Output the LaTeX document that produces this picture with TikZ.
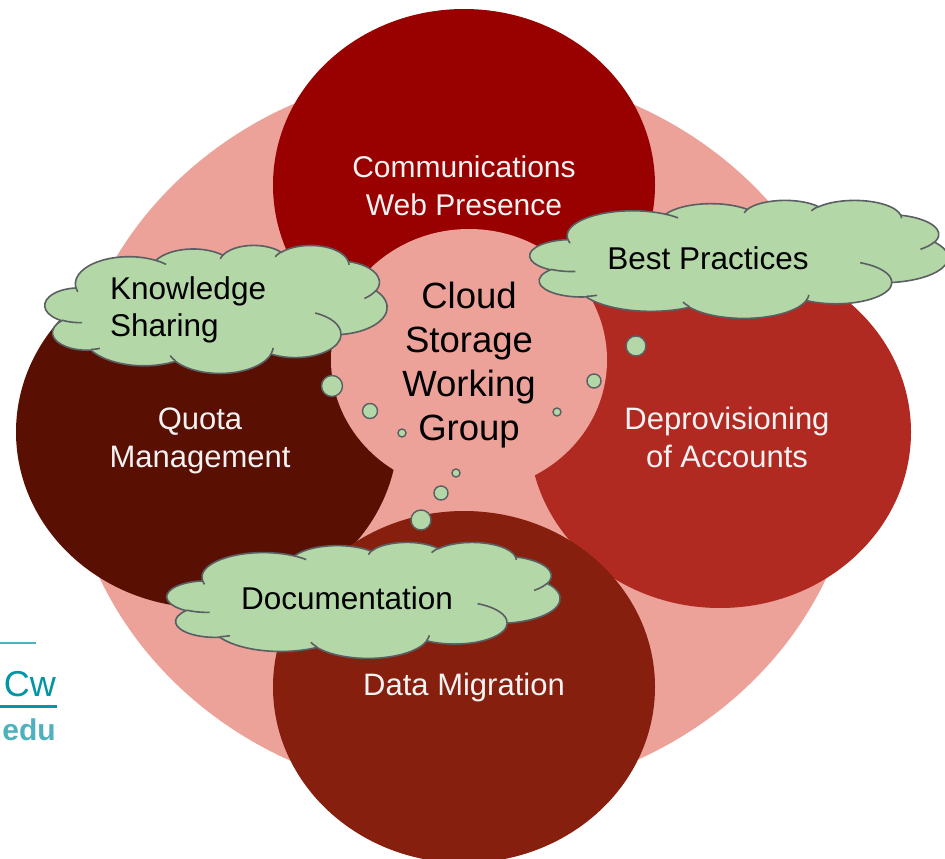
\documentclass[tikz,border=0pt]{standalone}
\usepackage{fontspec}
\setmainfont{Liberation Sans}
\usetikzlibrary{shapes.geometric}

\definecolor{basepink}{RGB}{236,161,153}
\definecolor{webred}{RGB}{153,0,0}
\definecolor{quotabrown}{RGB}{89,16,3}
\definecolor{deprovred}{RGB}{176,42,33}
\definecolor{migrred}{RGB}{134,31,14}
\definecolor{puffgreen}{RGB}{180,215,168}
\definecolor{puffrim}{RGB}{90,95,98}
\definecolor{petaltext}{RGB}{242,242,242}
\definecolor{linkteal}{RGB}{0,150,166}
\definecolor{mailteal}{RGB}{80,177,190}

\tikzset{
  % one bump of the cloud outline: x radius, y radius, start angle, sweep
  % (angles are screen angles, turned into ellipse parameters here)
  carc/.style n args={4}{insert path={
    arc[x radius=#1, y radius=#2,
        start angle={atan2(#1*sin(#3),#2*cos(#3))},
        end angle={atan2(#1*sin(#3+#4),#2*cos(#3+#4))
          -360*round((atan2(#1*sin(#3+#4),#2*cos(#3+#4))
          -atan2(#1*sin(#3),#2*cos(#3))-(#4))/360)}]}},
  % thought cloud, width and height, placed by its top left corner
  pics/thought/.style n args={2}{code={
    \begin{scope}[xscale=#1/432, yscale=#2/432]
      \draw[puff] (39,143.7)
        [carc={67.53}{91.90}{-190.4875}{123.7805}]
        [carc={53.33}{72.67}{-144.1024}{89.9452}]
        [carc={43.65}{59.45}{-145.8079}{99.7230}]
        [carc={48.57}{65.95}{-130.9861}{117.2417}]
        [carc={53.33}{72.73}{-78.7089}{109.0269}]
        [carc={67.75}{92.20}{-46.2673}{130.2690}]
        [carc={57.85}{78.67}{0.6250}{114.0333}]
        [carc={67.52}{92.15}{22.4516}{115.1726}]
        [carc={77.20}{105.43}{66.2426}{75.7110}]
        [carc={43.60}{59.18}{-274.9421}{146.7356}]
        [carc={43.45}{59.45}{-246.8285}{152.5189}]
        -- cycle;
      \draw[puffline]
        (46.93,261.77) [carc={43.45}{59.45}{86.7420}{26.4295}]
        (69.28,348.99) [carc={43.60}{59.18}{73.6105}{11.4475}]
        (164.78,390.90) [carc={67.52}{92.15}{137.6242}{14.0811}]
        (288.27,347.51) [carc={67.52}{92.15}{6.4533}{15.9984}]
        (341.29,229.54) [carc={57.85}{78.67}{-70.2924}{70.9174}]
        (417.98,153.54) [carc={53.33}{72.73}{30.3180}{27.7515}]
        (383.24,54.26) [carc={48.57}{65.95}{-13.7443}{14.8589}]
        (290.78,39.52) [carc={48.57}{65.95}{-149.1815}{18.1954}]
        (221.41,47.20) [carc={43.65}{59.45}{-163.4943}{17.6864}]
        (140.00,51.92) [carc={67.53}{91.90}{-66.7070}{12.3194}]
        (41.27,157.89) [carc={67.53}{91.90}{157.6544}{11.8582}];
    \end{scope}
  }}
}

\begin{document}
\begin{tikzpicture}[x=1pt, y=-1pt,
    petal/.style={ellipse, inner sep=0pt, minimum width=382pt, minimum height=352pt},
    petallabel/.style={text=petaltext, align=center, inner sep=0pt, font=\fontsize{31}{38}\selectfont},
    puff/.style={fill=puffgreen, draw=puffrim, line width=1.6pt},
    puffline/.style={draw=puffrim, line width=1.6pt},
    bubble/.style={fill=puffgreen, draw=puffrim, line width=1.4pt},
    pufftext/.style={text=black, inner sep=0pt, font=\fontsize{31.5}{37}\selectfont}]
   \useasboundingbox (0,0) rectangle (945,859);
   \clip (0,0) rectangle (945,859);

   % background disc and the four areas
   \node[ellipse, fill=basepink, minimum width=792pt, minimum height=728pt] (base) at (463,433) {};
   \node[petal, fill=webred] (web) at (464,185) {};
   \node[petal, fill=quotabrown] (quota) at (207,432) {};
   \node[petal, fill=deprovred] (deprov) at (720,432) {};
   \node[petal, fill=migrred] (migr) at (464,687) {};
   \node[ellipse, fill=basepink, minimum width=276pt, minimum height=262pt] (hub) at (469,360) {};

   \node[petallabel, font=\fontsize{30}{38}\selectfont] (weblabel) at (464,186) {Communications\\Web Presence};
   \node[petallabel] (quotalabel) at (200,441) {Quota\\Management};
   \node[petallabel] (deprovlabel) at (727,437) {Deprovisioning\\of Accounts};
   \node[petallabel] (migrlabel) at (464,687) {Data Migration};
   \node[align=center, inner sep=0pt, font=\fontsize{36.5}{44}\selectfont] (hublabel) at (469,365) {Cloud\\Storage\\Working\\Group};

   % thought bubbles
   \foreach \x/\y/\r in {332/386/10.5, 370/411/7.5, 402/433/4, 456/473/4, 441/493/7,
                          421/520/10, 594/381/7, 557/412/4, 636/346/10}
      \draw[bubble] (\x,\y) circle (\r);

   % clouds
   \pic at (45,245) {thought={342}{128}};
   \pic at (530,200) {thought={418}{118}};
   \pic at (167,542) {thought={393}{116}};
   \node[pufftext, anchor=west, align=left] (share) at (110,310) {Knowledge\\Sharing};
   \node[pufftext] (best) at (708,258) {Best Practices};
   \node[pufftext] (docs) at (347,598) {Documentation};

   % cut-off bits on the left
   \draw[mailteal, line width=2pt] (0,643) -- (36,643);
   \node[anchor=base east, inner sep=0pt, text=linkteal, font=\fontsize{36}{40}\selectfont] (cw) at (56,696) {Cw};
   \draw[linkteal, line width=3pt] (0,706) -- (57,706);
   \node[anchor=base east, inner sep=0pt, text=mailteal, font=\fontsize{30}{34}\selectfont\bfseries] (edu) at (56,740) {edu};
\end{tikzpicture}
\end{document}
